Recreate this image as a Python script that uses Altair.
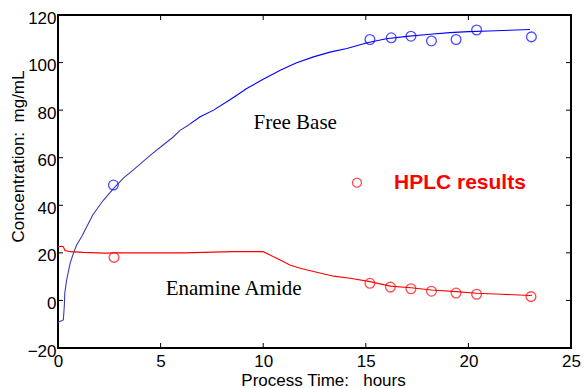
import altair as alt
import pandas as pd

# ---- data ----
# Free Base on-line curve (early darker part, then bright blue part)
fb_early_x = [0.0, 0.26, 0.31, 0.33, 0.42, 0.59, 0.75, 0.91, 1.15, 1.32, 1.7, 2.2, 2.7, 3.2, 3.66, 4.49, 5.0, 5.6, 5.95, 6.4]
fb_early_y = [-9.2, -8.2, -2.0, 3.0, 8.6, 15.6, 19.8, 23.3, 26.8, 29.6, 36.0, 42.0, 47.0, 51.5, 54.8, 61.0, 64.5, 68.6, 71.5, 74.0]
fb_late_x = [6.4, 6.93, 7.58, 8.4, 9.2, 10.0, 10.83, 11.6, 12.45, 13.3, 14.08, 15.06, 16.0, 17.0, 18.0, 19.1, 20.0, 21.0, 22.0, 23.0]
fb_late_y = [74.0, 77.2, 80.0, 84.5, 89.1, 93.0, 96.8, 99.8, 102.4, 104.5, 105.9, 108.3, 110.0, 111.0, 111.8, 112.6, 113.0, 113.3, 113.6, 113.9]

# Enamine Amide on-line curve
ea_x = [0.0, 0.18, 0.26, 0.34, 0.6, 1.23, 2.3, 2.86, 6.1, 8.55, 10.0, 11.0, 11.3, 11.8, 12.3, 13.43, 14.24, 15.2, 16.2, 17.2, 18.2, 19.4, 20.4, 21.6, 23.0, 23.1]
ea_y = [22.6, 22.8, 22.6, 21.0, 20.5, 20.2, 19.9, 20.0, 20.0, 20.5, 20.5, 16.3, 14.9, 13.5, 12.5, 10.2, 9.3, 7.9, 6.0, 5.3, 4.4, 3.7, 3.0, 2.6, 2.1, 2.2]

# HPLC results
hplc_fb_x = [2.7, 15.2, 16.24, 17.2, 18.2, 19.4, 20.4, 23.07]
hplc_fb_y = [48.5, 109.7, 110.4, 111.1, 109.1, 109.7, 113.7, 110.8]
hplc_ea_x = [2.73, 15.2, 16.2, 17.2, 18.2, 19.4, 20.4, 23.05]
hplc_ea_y = [18.1, 7.2, 5.6, 4.9, 3.9, 3.1, 2.6, 1.6]

x_ticks = [0, 5, 10, 15, 20, 25]
y_ticks = [-20, 0, 20, 40, 60, 80, 100, 120]

labels_text = ["Free Base", "Enamine Amide"]
labels_x = [11.56, 8.56]
labels_y = [74.5, 5.0]

legend_text = ["HPLC results"]
legend_x = [14.57]
legend_y = [49.5]

XMIN, XMAX = 0, 25
YMIN, YMAX = -20, 120

xs = alt.Scale(domain=[XMIN, XMAX], nice=False, zero=False)
ys = alt.Scale(domain=[YMIN, YMAX], nice=False, zero=False)

SANS = "Liberation Sans"
SERIF = "Liberation Serif"

xax = alt.Axis(values=x_ticks, title="Process Time:\u00a0\u00a0 hours", grid=False, ticks=False,
               domain=False, labelFont=SANS, labelFontSize=17, labelColor="black",
               labelPadding=5, labelFlush=False, labelOverlap=False,
               titleFont=SANS, titleFontSize=17, titleFontWeight="normal", titleColor="black",
               titleX=265, titleY=32, titleBaseline="middle")
yax = alt.Axis(values=y_ticks, title="Concentration:\u00a0 mg/mL", grid=False, ticks=False,
               domain=False, labelFont=SANS, labelFontSize=17, labelColor="black",
               labelPadding=2, labelBaseline="middle", labelOffset=3, labelFlush=False, labelOverlap=False,
               titleFont=SANS, titleFontSize=17, titleFontWeight="normal", titleColor="black",
               titleX=-40, titleY=141, titleBaseline="middle")

fb_early = pd.DataFrame({"x": fb_early_x, "y": fb_early_y})
fb_late = pd.DataFrame({"x": fb_late_x, "y": fb_late_y})
ea = pd.DataFrame({"x": ea_x, "y": ea_y})
hfb = pd.DataFrame({"x": hplc_fb_x, "y": hplc_fb_y})
hea = pd.DataFrame({"x": hplc_ea_x, "y": hplc_ea_y})
lab = pd.DataFrame({"x": labels_x, "y": labels_y, "t": labels_text})
leg = pd.DataFrame({"x": legend_x, "y": legend_y, "t": legend_text})

# inward tick marks (MATLAB style) on all four sides
TLX = 5 / 20.5   # 5 px in x data units
TLY = 5 / 2.38   # 5 px in y data units
tb = pd.DataFrame({"x": x_ticks})
lr = pd.DataFrame({"y": y_ticks})

base_x = alt.X("x:Q", scale=xs, axis=xax)
base_y = alt.Y("y:Q", scale=ys, axis=yax)

l_fb1 = alt.Chart(fb_early).mark_line(color="#3a3ab4", strokeWidth=1.1).encode(x=base_x, y=base_y, order="x:Q")
l_fb2 = alt.Chart(fb_late).mark_line(color="#0000ff", strokeWidth=1.1).encode(x="x:Q", y="y:Q")
l_ea = alt.Chart(ea).mark_line(color="#ff0000", strokeWidth=1.1).encode(x="x:Q", y="y:Q")
p_fb = alt.Chart(hfb).mark_point(shape="circle", filled=False, color="#0000ff", size=95, strokeWidth=1.3).encode(x="x:Q", y="y:Q")
p_ea = alt.Chart(hea).mark_point(shape="circle", filled=False, color="#ff0000", size=95, strokeWidth=1.3).encode(x="x:Q", y="y:Q")
p_leg = alt.Chart(leg).mark_point(shape="circle", filled=False, color="#ff0000", size=80, strokeWidth=1.3).encode(x="x:Q", y="y:Q")
t_leg = alt.Chart(leg).mark_text(font=SANS, fontSize=21, fontWeight="bold", color="#ff0000", align="left",
                                 baseline="middle", dx=37).encode(x="x:Q", y="y:Q", text="t:N")
t_lab = alt.Chart(lab).mark_text(font=SERIF, fontSize=21, color="black", align="center",
                                 baseline="middle").encode(x="x:Q", y="y:Q", text="t:N")

tick_b = alt.Chart(tb).mark_rule(color="black", strokeWidth=1).encode(
    x="x:Q", y=alt.datum(YMIN), y2=alt.datum(YMIN + TLY))
tick_t = alt.Chart(tb).mark_rule(color="black", strokeWidth=1).encode(
    x="x:Q", y=alt.datum(YMAX), y2=alt.datum(YMAX - TLY))
tick_l = alt.Chart(lr).mark_rule(color="black", strokeWidth=1).encode(
    y="y:Q", x=alt.datum(XMIN), x2=alt.datum(XMIN + TLX))
tick_r = alt.Chart(lr).mark_rule(color="black", strokeWidth=1).encode(
    y="y:Q", x=alt.datum(XMAX), x2=alt.datum(XMAX - TLX))

chart = alt.layer(
    l_fb1, l_fb2, l_ea, p_fb, p_ea, p_leg, t_leg, t_lab, tick_b, tick_t, tick_l, tick_r
).properties(
    width=513, height=333,
    autosize=alt.AutoSizeParams(type="none"),
    padding={"left": 58, "top": 15, "right": 13, "bottom": 40},
    background="white",
).configure_view(stroke="black", strokeWidth=2)

chart.save("out.html", embed_options={"renderer": "svg", "actions": False})
